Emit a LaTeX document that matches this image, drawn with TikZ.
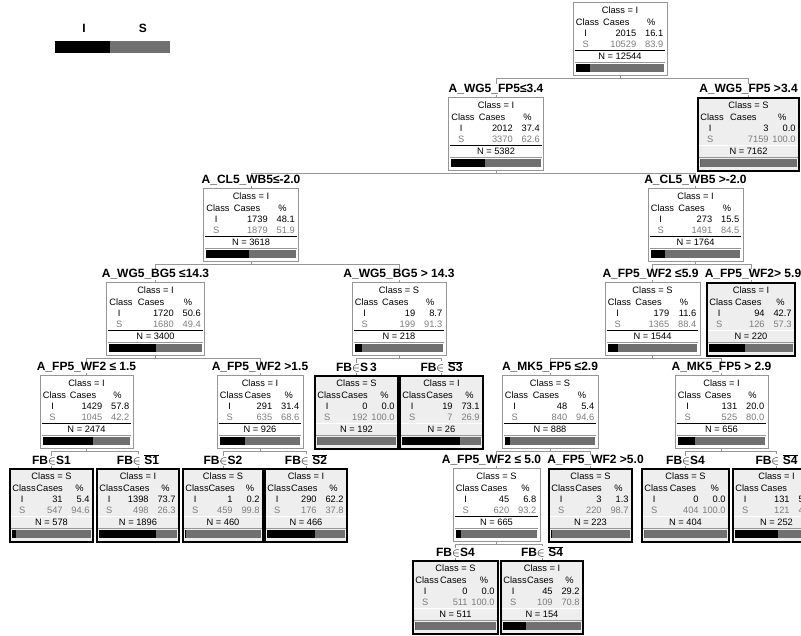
\documentclass[tikz,border=0pt]{standalone}
\usepackage{fontspec}
\setmainfont{Liberation Sans}
\usetikzlibrary{positioning,calc,backgrounds}
\definecolor{barS}{RGB}{112,112,112}
\definecolor{rowS}{RGB}{125,125,125}
\definecolor{leafbg}{RGB}{238,238,238}
\definecolor{edge}{RGB}{150,150,150}

% contents of one tree box: name, class, I cases, I %, S cases, S %, N, colour of first rule
\newcommand{\dtdata}[8]{%
  \node[cell] (#1-cls) at ([shift={(0,8)}]#1.north) {Class = #2};
  \node[cell, anchor=west] (#1-hc) at ([shift={(3,20)}]#1.north west) {Class};
  \node[cell, anchor=west] (#1-hn) at ($(#1.north west)!0.32!(#1.north east)+(0,20)$) {Cases};
  \node[cell] (#1-hp) at ($(#1.north west)!0.83!(#1.north east)+(0,20)$) {\%};
  \node[cell] (#1-ci) at ([shift={(13,31)}]#1.north west) {I};
  \node[cell, anchor=east] (#1-ni) at ([shift={(-31,31)}]#1.north east) {#3};
  \node[cell, anchor=east] (#1-pi) at ([shift={(-4,31)}]#1.north east) {#4};
  \node[cell, text=rowS] (#1-cs) at ([shift={(13,42)}]#1.north west) {S};
  \node[cell, text=rowS, anchor=east] (#1-ns) at ([shift={(-31,42)}]#1.north east) {#5};
  \node[cell, text=rowS, anchor=east] (#1-ps) at ([shift={(-4,42)}]#1.north east) {#6};
  \draw[#8, line width=0.8pt] ([shift={(2,48)}]#1.north west) -- ([shift={(-2,48)}]#1.north east);
  \node[cell] (#1-n) at ([shift={(0,54)}]#1.north) {N = #7};
  \draw[edge, line width=0.8pt] ([shift={(2,60)}]#1.north west) -- ([shift={(-2,60)}]#1.north east);
  \coordinate (#1-bl) at ([shift={(3,70)}]#1.north west);
  \coordinate (#1-br) at ([shift={(-3,70)}]#1.north east);
  \fill[barS] ([shift={(3,62)}]#1.north west) rectangle (#1-br);
  \fill[black] ([shift={(3,62)}]#1.north west) rectangle ($(#1-bl)!#4/100!(#1-br)$);
}

\begin{document}
\begin{tikzpicture}[x=1pt, y=-1pt,
  splitbox/.style={draw=edge, line width=0.8pt, fill=white, minimum height=73pt, inner sep=0pt, anchor=north},
  leafbox/.style={draw=black, line width=1.6pt, fill=leafbg, minimum height=73pt, inner sep=0pt, anchor=north},
  splitlbl/.style={font=\fontsize{12}{13}\selectfont\bfseries, fill=white, inner sep=0.5pt},
  cell/.style={font=\fontsize{9.3}{11}\selectfont, inner sep=0pt},
  conn/.style={draw=edge, line width=0.8pt}]
\useasboundingbox (0,0) rectangle (801,635);
\clip (0,0) rectangle (801,635);

% key
\node[splitlbl] (keyI) at (84,28) {I};
\node[splitlbl] (keyS) at (143,28) {S};
\fill[black] (55,41) rectangle (110,53);
\fill[barS] (110,41) rectangle (170,53);

% level 0 and 1
\node[splitbox, minimum width=94pt] (root) at (620,2) {};
\dtdata{root}{I}{2015}{16.1}{10529}{83.9}{12544}{black}
\node[splitbox, minimum width=95pt] (wgfpLo) at (496,97) {};
\node[splitlbl, above=2pt of wgfpLo] (wgfpLo-lbl) {A\_WG5\_FP5≤3.4};
\dtdata{wgfpLo}{I}{2012}{37.4}{3370}{62.6}{5382}{black}
\node[leafbox, minimum width=101pt] (wgfpHi) at (748.5,97) {};
\node[splitlbl, above=2pt of wgfpHi] (wgfpHi-lbl) {A\_WG5\_FP5 >3.4};
\dtdata{wgfpHi}{S}{3}{0.0}{7159}{100.0}{7162}{white}

% level 2
\node[splitbox, minimum width=95pt] (clwbLo) at (251,188) {};
\node[splitlbl, above=2pt of clwbLo] (clwbLo-lbl) {A\_CL5\_WB5≤-2.0};
\dtdata{clwbLo}{I}{1739}{48.1}{1879}{51.9}{3618}{black}
\node[splitbox, minimum width=95pt] (clwbHi) at (695.5,188) {};
\node[splitlbl, above=2pt of clwbHi] (clwbHi-lbl) {A\_CL5\_WB5 >-2.0};
\dtdata{clwbHi}{I}{273}{15.5}{1491}{84.5}{1764}{black}

% level 3
\node[splitbox, minimum width=98pt] (wgbgLo) at (155.5,282) {};
\node[splitlbl, above=2pt of wgbgLo] (wgbgLo-lbl) {A\_WG5\_BG5 ≤14.3};
\dtdata{wgbgLo}{I}{1720}{50.6}{1680}{49.4}{3400}{black}
\node[splitbox, minimum width=94pt] (wgbgHi) at (399,282) {};
\node[splitlbl, above=2pt of wgbgHi] (wgbgHi-lbl) {A\_WG5\_BG5 > 14.3};
\dtdata{wgbgHi}{S}{19}{8.7}{199}{91.3}{218}{black}
\node[splitbox, minimum width=95pt] (fpwfLoC) at (652.5,282) {};
\node[splitlbl, above=2pt of fpwfLoC, xshift=-2pt] (fpwfLoC-lbl) {A\_FP5\_WF2 ≤5.9};
\dtdata{fpwfLoC}{S}{179}{11.6}{1365}{88.4}{1544}{black}
\node[leafbox, minimum width=88pt] (fpwfHiC) at (751,282) {};
\node[splitlbl, above=2pt of fpwfHiC, xshift=2pt] (fpwfHiC-lbl) {A\_FP5\_WF2> 5.9};
\dtdata{fpwfHiC}{I}{94}{42.7}{126}{57.3}{220}{white}

% level 4
\node[splitbox, minimum width=93pt] (fpwfLoA) at (86.5,375) {};
\node[splitlbl, above=2pt of fpwfLoA] (fpwfLoA-lbl) {A\_FP5\_WF2 ≤ 1.5};
\dtdata{fpwfLoA}{I}{1429}{57.8}{1045}{42.2}{2474}{black}
\node[splitbox, minimum width=86pt] (fpwfHiA) at (260,375) {};
\node[splitlbl, above=2pt of fpwfHiA] (fpwfHiA-lbl) {A\_FP5\_WF2 >1.5};
\dtdata{fpwfHiA}{I}{291}{31.4}{635}{68.6}{926}{black}
\node[leafbox, minimum width=83pt] (sThree) at (356.5,375) {};
\node[splitlbl, above=2pt of sThree] (sThree-lbl) {FB$\in$S\,3};
\dtdata{sThree}{S}{0}{0.0}{192}{100.0}{192}{white}
\node[leafbox, minimum width=83pt] (sThreeBar) at (441.5,375) {};
\node[splitlbl, above=2pt of sThreeBar] (sThreeBar-lbl) {FB$\in\overline{\mbox{S3}}$};
\dtdata{sThreeBar}{I}{19}{73.1}{7}{26.9}{26}{white}
\node[splitbox, minimum width=96pt] (mkfpLo) at (550,375) {};
\node[splitlbl, above=2pt of mkfpLo] (mkfpLo-lbl) {A\_MK5\_FP5 ≤2.9};
\dtdata{mkfpLo}{S}{48}{5.4}{840}{94.6}{888}{black}
\node[splitbox, minimum width=93pt] (mkfpHi) at (721.5,375) {};
\node[splitlbl, above=2pt of mkfpHi] (mkfpHi-lbl) {A\_MK5\_FP5 > 2.9};
\dtdata{mkfpHi}{I}{131}{20.0}{525}{80.0}{656}{black}

% level 5
\node[leafbox, minimum width=83pt] (sOne) at (51.5,468) {};
\node[splitlbl, above=2pt of sOne] (sOne-lbl) {FB$\in$S1};
\dtdata{sOne}{S}{31}{5.4}{547}{94.6}{578}{white}
\node[leafbox, minimum width=82pt] (sOneBar) at (138,468) {};
\node[splitlbl, above=2pt of sOneBar] (sOneBar-lbl) {FB$\in\overline{\mbox{S1}}$};
\dtdata{sOneBar}{I}{1398}{73.7}{498}{26.3}{1896}{white}
\node[leafbox, minimum width=80pt] (sTwo) at (223,468) {};
\node[splitlbl, above=2pt of sTwo] (sTwo-lbl) {FB$\in$S2};
\dtdata{sTwo}{S}{1}{0.2}{459}{99.8}{460}{white}
\node[leafbox, minimum width=82pt] (sTwoBar) at (306,468) {};
\node[splitlbl, above=2pt of sTwoBar] (sTwoBar-lbl) {FB$\in\overline{\mbox{S2}}$};
\dtdata{sTwoBar}{I}{290}{62.2}{176}{37.8}{466}{white}
\node[splitbox, minimum width=87pt] (fpwfLoB) at (496.5,468) {};
\node[splitlbl, above=2pt of fpwfLoB, xshift=-5pt] (fpwfLoB-lbl) {A\_FP5\_WF2 ≤ 5.0};
\dtdata{fpwfLoB}{S}{45}{6.8}{620}{93.2}{665}{black}
\node[leafbox, minimum width=83pt] (fpwfHiB) at (590.5,468) {};
\node[splitlbl, above=2pt of fpwfHiB, xshift=5pt] (fpwfHiB-lbl) {A\_FP5\_WF2 >5.0};
\dtdata{fpwfHiB}{S}{3}{1.3}{220}{98.7}{223}{white}
\node[leafbox, minimum width=87pt] (sFour) at (685.5,468) {};
\node[splitlbl, above=2pt of sFour] (sFour-lbl) {FB$\in$S4};
\dtdata{sFour}{S}{0}{0.0}{404}{100.0}{404}{white}
\node[leafbox, minimum width=87pt] (sFourBar) at (776.5,468) {};
\node[splitlbl, above=2pt of sFourBar] (sFourBar-lbl) {FB$\in\overline{\mbox{S4}}$};
\dtdata{sFourBar}{I}{131}{52.0}{121}{48.0}{252}{white}

% level 6
\node[leafbox, minimum width=85pt] (sFourB) at (455.5,560) {};
\node[splitlbl, above=2pt of sFourB] (sFourB-lbl) {FB$\in$S4};
\dtdata{sFourB}{S}{0}{0.0}{511}{100.0}{511}{white}
\node[leafbox, minimum width=82pt] (sFourBarB) at (542,560) {};
\node[splitlbl, above=2pt of sFourBarB] (sFourBarB-lbl) {FB$\in\overline{\mbox{S4}}$};
\dtdata{sFourBarB}{I}{45}{29.2}{109}{70.8}{154}{white}

% connectors
\begin{scope}[on background layer]
\draw[conn] (root.south) -- ++(0,3) -| (wgfpLo.north);
\draw[conn] (root.south) -- ++(0,3) -| (wgfpHi.north);
\draw[conn] (wgfpLo.south) -- ++(0,3) -| (clwbLo.north);
\draw[conn] (wgfpLo.south) -- ++(0,3) -| (clwbHi.north);
\draw[conn] (clwbLo.south) -- ++(0,3) -| (wgbgLo.north);
\draw[conn] (clwbLo.south) -- ++(0,3) -| (wgbgHi.north);
\draw[conn] (clwbHi.south) -- ++(0,3) -| (fpwfLoC.north);
\draw[conn] (clwbHi.south) -- ++(0,3) -| (fpwfHiC.north);
\draw[conn] (wgbgLo.south) -- ++(0,3) -| (fpwfLoA.north);
\draw[conn] (wgbgLo.south) -- ++(0,3) -| (fpwfHiA.north);
\draw[conn] (wgbgHi.south) -- ++(0,3) -| (sThree.north);
\draw[conn] (wgbgHi.south) -- ++(0,3) -| (sThreeBar.north);
\draw[conn] (fpwfLoC.south) -- ++(0,3) -| (mkfpLo.north);
\draw[conn] (fpwfLoC.south) -- ++(0,3) -| (mkfpHi.north);
\draw[conn] (fpwfLoA.south) -- ++(0,3) -| (sOne.north);
\draw[conn] (fpwfLoA.south) -- ++(0,3) -| (sOneBar.north);
\draw[conn] (fpwfHiA.south) -- ++(0,3) -| (sTwo.north);
\draw[conn] (fpwfHiA.south) -- ++(0,3) -| (sTwoBar.north);
\draw[conn] (mkfpLo.south) -- ++(0,3) -| (fpwfLoB.north);
\draw[conn] (mkfpLo.south) -- ++(0,3) -| (fpwfHiB.north);
\draw[conn] (mkfpHi.south) -- ++(0,3) -| (sFour.north);
\draw[conn] (mkfpHi.south) -- ++(0,3) -| (sFourBar.north);
\draw[conn] (fpwfLoB.south) -- ++(0,3) -| (sFourB.north);
\draw[conn] (fpwfLoB.south) -- ++(0,3) -| (sFourBarB.north);
\end{scope}
\end{tikzpicture}
\end{document}
